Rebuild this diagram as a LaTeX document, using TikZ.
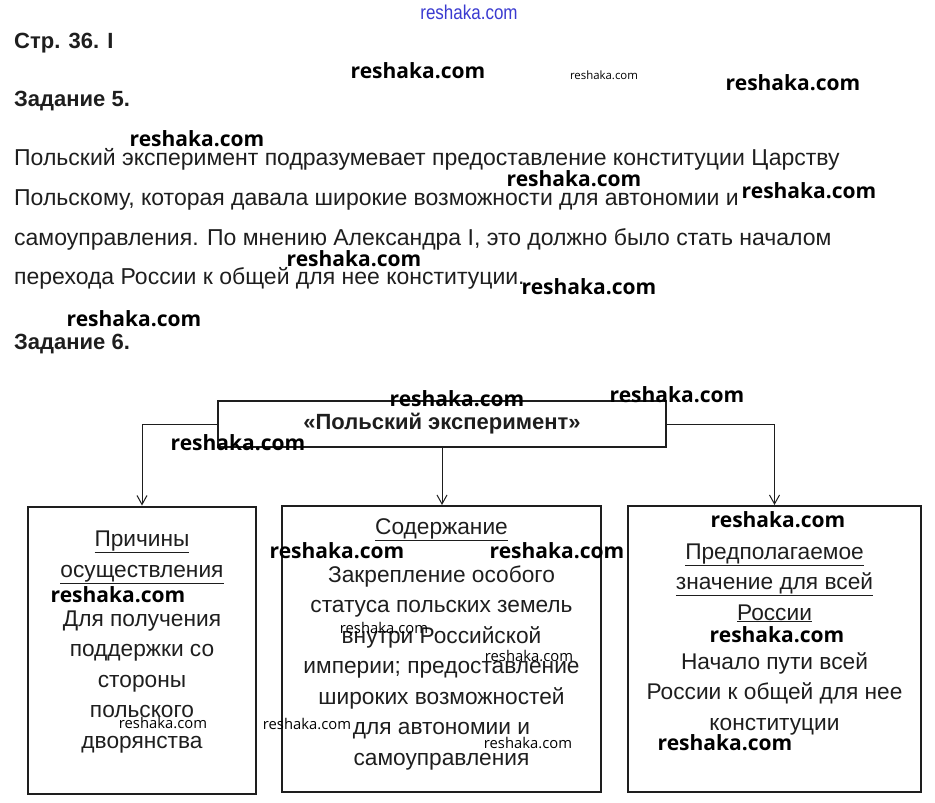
\documentclass[tikz,border=0pt]{standalone}
\usepackage{fontspec}
\setmainfont{Liberation Sans}
\newfontfamily\wmfont{Open Sans}
\newfontfamily\narrowfont[FakeStretch=0.85]{Liberation Sans}
\usetikzlibrary{arrows.meta,positioning}
\definecolor{ink}{HTML}{1E1E1E}
\definecolor{wmblue}{HTML}{3A3AD0}

\begin{document}
\begin{tikzpicture}[x=1pt,y=-1pt,
  box/.style={draw=ink,line width=2pt,inner sep=0pt},
  txt/.style={font=\fontsize{22.7}{30.5}\selectfont,text=ink,align=center,anchor=base,inner sep=0pt},
  head/.style={font=\bfseries\fontsize{22}{24}\selectfont,text=ink,anchor=base west,inner sep=0pt},
  para/.style={font=\fontsize{23}{26}\selectfont,text=ink,anchor=base west,inner sep=0pt},
  link/.style={draw=ink,line width=1pt,-{Straight Barb[length=9pt,width=10pt]}},
  wm/.style={font=\wmfont\bfseries\fontsize{21}{23}\selectfont,inner sep=0pt},
  wmmid/.style={font=\wmfont\fontsize{14.8}{16}\selectfont,inner sep=0pt},
  wmsmall/.style={font=\wmfont\fontsize{11.4}{13}\selectfont,inner sep=0pt}]
  \useasboundingbox (0,0) rectangle (935,803);

  % Headings and text of task 5
  \node[head] (page) at (14,48) {Стр. 36. I};
  \node[head] (task5) at (14,106) {Задание 5.};
  \node[para] (line1) at (14,165) {Польский эксперимент подразумевает предоставление конституции Царству};
  \node[para] (line2) at (14,205) {Польскому, которая давала широкие возможности для автономии и};
  \node[para] (line3) at (14,245) {самоуправления. По мнению Александра I, это должно было стать началом};
  \node[para] (line4) at (14,284) {перехода России к общей для нее конституции.};
  \node[head] (task6) at (14,349) {Задание 6.};

  % Scheme of task 6 (the last line of each text block sits on the given base)
  \node[box,minimum width=448pt,minimum height=46pt,
        font=\bfseries\fontsize{22}{24}\selectfont,text=ink] (main) at (442,424) {«Польский эксперимент»};
  \node[box,minimum width=228pt,minimum height=287pt] (causes) at (142,650) {};
  \node[box,minimum width=319pt,minimum height=286pt] (content) at (441.5,649) {};
  \node[box,minimum width=293pt,minimum height=286pt] (meaning) at (774.5,649) {};

  \draw[link] (main.west) -| (causes.north);
  \draw[link] (main.south) -- (main.south |- content.north);
  \draw[link] (main.east) -| (meaning.north);

  % Texts in the boxes
  \node[txt] (causes-title) at (142,577) {\underline{Причины}\\\underline{осуществления}};
  \node[txt] (causes-text) at (142,748) {Для получения\\поддержки со\\стороны\\польского\\дворянства};
  \node[txt] (content-title) at (441.5,534) {\underline{Содержание}};
  \node[txt] (content-text) at (441.5,765) {Закрепление особого\\статуса польских земель\\внутри Российской\\империи; предоставление\\широких возможностей\\для автономии и\\самоуправления};
  \node[txt] (meaning-title) at (774.5,620) {\underline{Предполагаемое}\\\underline{значение для всей}\\\underline{России}};
  \node[txt] (meaning-text) at (774.5,730) {Начало пути всей\\России к общей для нее\\конституции};

  % Watermarks
  \node[font=\narrowfont\fontsize{20}{22}\selectfont,text=wmblue,inner sep=0pt] (wm0) at (469,12) {reshaka.com};
  \node[wm] (wm1) at (418,71) {reshaka.com};
  \node[wmsmall] (wm2) at (604,75) {reshaka.com};
  \node[wm] (wm3) at (793,83) {reshaka.com};
  \node[wm] (wm4) at (197,139) {reshaka.com};
  \node[wm] (wm5) at (574,179) {reshaka.com};
  \node[wm] (wm6) at (809,191) {reshaka.com};
  \node[wm] (wm7) at (354,259) {reshaka.com};
  \node[wm] (wm8) at (589,287) {reshaka.com};
  \node[wm] (wm9) at (134,319) {reshaka.com};
  \node[wm] (wm10) at (457,399) {reshaka.com};
  \node[wm] (wm11) at (677,395) {reshaka.com};
  \node[wm] (wm12) at (238,443) {reshaka.com};
  \node[wm] (wm13) at (778,520) {reshaka.com};
  \node[wm] (wm14) at (337,551) {reshaka.com};
  \node[wm] (wm15) at (557,551) {reshaka.com};
  \node[wm] (wm16) at (118,595) {reshaka.com};
  \node[wmmid] (wm17) at (384,628) {reshaka.com};
  \node[wmmid] (wm18) at (529,656) {reshaka.com};
  \node[wm] (wm19) at (777,635) {reshaka.com};
  \node[wmmid] (wm20) at (163,723) {reshaka.com};
  \node[wmmid] (wm21) at (307,724) {reshaka.com};
  \node[wmmid] (wm22) at (528,743) {reshaka.com};
  \node[wm] (wm23) at (725,743) {reshaka.com};
\end{tikzpicture}
\end{document}
